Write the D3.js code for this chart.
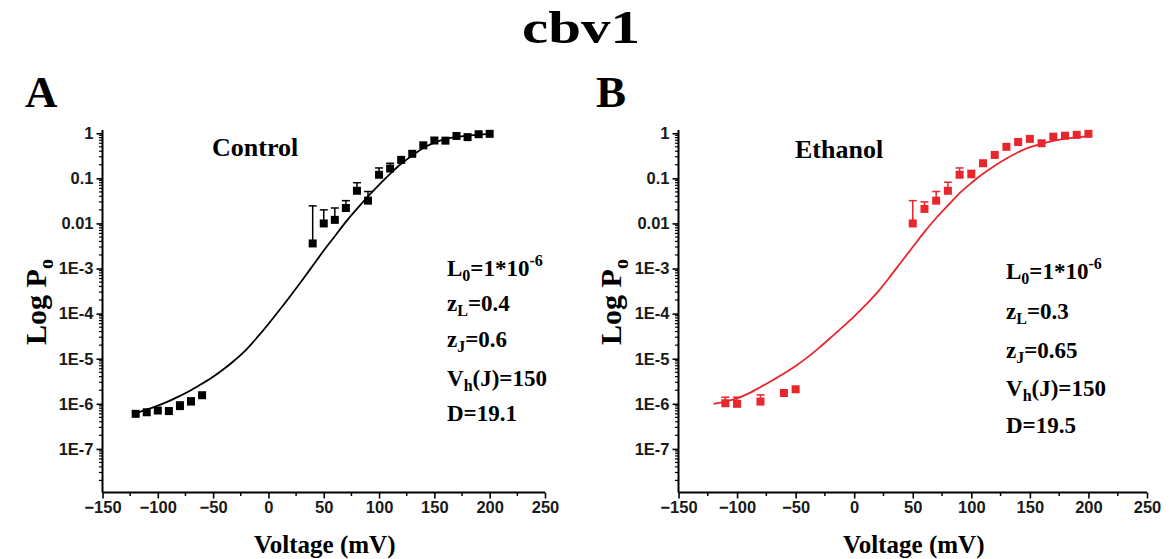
<!DOCTYPE html>
<html>
<head>
<meta charset="utf-8">
<script src="https://cdn.jsdelivr.net/npm/d3@7"></script>
<style>
  html, body { margin: 0; padding: 0; background: #fff; }
  svg { display: block; }
</style>
</head>
<body>
<svg id="chart" width="1169" height="559"></svg>
<script>
// ---------- DATA ----------
const xTicks = [-150, -100, -50, 0, 50, 100, 150, 200, 250];
const yTickValues = [1, 0.1, 0.01, 1e-3, 1e-4, 1e-5, 1e-6, 1e-7];
const yTickLabels = ["1", "0.1", "0.01", "1E-3", "1E-4", "1E-5", "1E-6", "1E-7"];

// Panel A: Control
const voltageA = [-120, -110, -100, -90, -80, -70, -60, 40, 50, 60, 70, 80, 90, 100, 110, 120, 130, 140, 150, 160, 170, 180, 190, 200];
const poA      = [6.0e-7, 6.5e-7, 7.1e-7, 6.9e-7, 8.9e-7, 1.12e-6, 1.55e-6, 0.0036, 0.010, 0.012, 0.022, 0.053, 0.032, 0.12, 0.165, 0.257, 0.35, 0.54, 0.69, 0.685, 0.87, 0.82, 0.95, 0.97];
const errTopA  = [null, null, null, 8.0e-7, 1.1e-6, 1.35e-6, null, 0.0245, 0.020, 0.022, 0.032, 0.080, 0.051, 0.17, 0.216, null, null, null, null, null, null, null, null, null];

const fitVoltageA = [-120, -110, -100, -90, -80, -70, -60, -50, -40, -30, -20, -10, 0, 10, 20, 30, 40, 50, 60, 70, 80, 90, 100, 110, 120, 130, 140, 150, 160, 170, 180, 190, 200];
const fitPoA      = [6.2e-7, 7.4e-7, 9.1e-7, 1.15e-6, 1.5e-6, 2.0e-6, 2.8e-6, 4.0e-6, 6.0e-6, 9.5e-6, 1.6e-5, 3.0e-5, 5.9e-5, 1.2e-4, 2.5e-4, 5.3e-4, 1.15e-3, 2.5e-3, 5.2e-3, 0.0108, 0.021, 0.040, 0.072, 0.126, 0.21, 0.32, 0.47, 0.62, 0.74, 0.83, 0.89, 0.93, 0.965];

// Panel B: Ethanol
const voltageB = [-110, -100, -80, -60, -50, 50, 60, 70, 80, 90, 100, 110, 120, 130, 140, 150, 160, 170, 180, 190, 200];
const poB      = [1.03e-6, 1.0e-6, 1.12e-6, 1.74e-6, 2.1e-6, 0.010, 0.021, 0.032, 0.053, 0.12, 0.123, 0.216, 0.33, 0.50, 0.64, 0.75, 0.60, 0.84, 0.88, 0.92, 0.97];
const errTopB  = [1.4e-6, 1.4e-6, 1.58e-6, null, null, 0.032, 0.030, 0.051, 0.082, 0.17, 0.15, null, null, null, null, null, null, null, null, null, null];

const fitVoltageB = [-120, -110, -100, -90, -80, -70, -60, -50, -40, -30, -20, -10, 0, 10, 20, 30, 40, 50, 60, 70, 80, 90, 100, 110, 120, 130, 140, 150, 160, 170, 180, 190, 200];
const fitPoB      = [1.0e-6, 1.12e-6, 1.32e-6, 1.7e-6, 2.35e-6, 3.3e-6, 4.7e-6, 6.9e-6, 1.07e-5, 1.74e-5, 2.95e-5, 5.0e-5, 8.7e-5, 1.58e-4, 3.0e-4, 6.3e-4, 1.38e-3, 3.0e-3, 6.5e-3, 0.0132, 0.025, 0.047, 0.079, 0.126, 0.19, 0.275, 0.38, 0.49, 0.59, 0.68, 0.76, 0.81, 0.85];

const paramsA = { L0: "1*10", L0exp: "-6", zL: "0.4", zJ: "0.6", Vh: "150", D: "19.1" };
const paramsB = { L0: "1*10", L0exp: "-6", zL: "0.3", zJ: "0.65", Vh: "150", D: "19.5" };

// ---------- DRAW ----------
const svg = d3.select("#chart");
const serif = "'Liberation Serif', 'Times New Roman', serif";
const sans = "'Liberation Sans', Arial, sans-serif";

svg.append("text").attr("x", 522).attr("y", 43)
  .attr("font-family", serif).attr("font-weight", "bold").attr("font-size", 46)
  .attr("textLength", 118).attr("lengthAdjust", "spacingAndGlyphs")
  .text("cbv1");

function drawPanel(cfg) {
  const x = d3.scaleLinear().domain([-150, 250]).range([cfg.left, cfg.right]);
  const y = d3.scaleLog().domain([1.08e-8, 1.18]).range([492.5, 130]);
  const g = svg.append("g");

  // panel letter
  g.append("text").attr("x", cfg.letterX).attr("y", 107)
    .attr("font-family", serif).attr("font-weight", "bold").attr("font-size", 45).text(cfg.letter);

  // x axis
  const xAxis = d3.axisBottom(x).tickValues(xTicks).tickSize(6).tickPadding(3).tickFormat(d3.format("d"));
  const gx = g.append("g").attr("transform", `translate(0,492.5)`).call(xAxis);
  const xMinor = d3.range(-125, 250, 50);
  gx.selectAll(".minor").data(xMinor).enter().append("line").attr("class", "minor")
    .attr("x1", d => x(d)).attr("x2", d => x(d)).attr("y1", 0).attr("y2", 3.5)
    .attr("stroke", "#000").attr("stroke-width", 1.5);

  // y axis
  const yAxis = d3.axisLeft(y).tickValues(yTickValues).tickSize(6).tickPadding(3)
    .tickFormat((d, i) => yTickLabels[i]);
  const gy = g.append("g").attr("transform", `translate(${cfg.left},0)`).call(yAxis);
  const yMinor = [];
  for (let e = -8; e <= -1; e++) for (let m = 2; m <= 9; m++) yMinor.push(m * Math.pow(10, e));
  gy.selectAll(".minor").data(yMinor.filter(v => v > 1.08e-8 && v < 1.18)).enter().append("line").attr("class", "minor")
    .attr("x1", 0).attr("x2", -3.5).attr("y1", d => y(d)).attr("y2", d => y(d))
    .attr("stroke", "#000").attr("stroke-width", 1.2);

  [gx, gy].forEach(a => {
    a.select(".domain").attr("stroke", "#000").attr("stroke-width", 2);
    a.selectAll(".tick line").attr("stroke", "#000").attr("stroke-width", 1.6);
    a.selectAll(".tick text").attr("font-family", sans).attr("font-size", 16.5)
      .attr("font-weight", "bold").style("fill", "#1a1a1a");
  });
  gx.select(".domain").attr("d", `M${cfg.left},0H${cfg.right}`);
  gy.select(".domain").attr("d", `M0,492.5V130`);

  // fit curve
  const line = d3.line().x(d => x(d[0])).y(d => y(d[1])).curve(d3.curveMonotoneX);
  g.append("path").datum(cfg.fitV.map((v, i) => [v, cfg.fitP[i]]))
    .attr("d", line).attr("fill", "none").attr("stroke", cfg.color).attr("stroke-width", 1.8);

  // error bars (upper only)
  const pts = cfg.v.map((v, i) => ({ v, p: cfg.p[i], e: cfg.err[i] }));
  const eb = g.append("g");
  pts.filter(d => d.e != null).forEach(d => {
    eb.append("line").attr("x1", x(d.v)).attr("x2", x(d.v)).attr("y1", y(d.p)).attr("y2", y(d.e))
      .attr("stroke", cfg.color).attr("stroke-width", 1.5);
    eb.append("line").attr("x1", x(d.v) - 4).attr("x2", x(d.v) + 4).attr("y1", y(d.e)).attr("y2", y(d.e))
      .attr("stroke", cfg.color).attr("stroke-width", 1.5);
  });
  // markers
  g.append("g").selectAll("rect").data(pts).enter().append("rect")
    .attr("x", d => x(d.v) - 4).attr("y", d => y(d.p) - 4).attr("width", 8).attr("height", 8)
    .attr("fill", cfg.color);

  // condition label
  g.append("text").attr("x", cfg.condX).attr("y", cfg.condY)
    .attr("font-family", serif).attr("font-weight", "bold").attr("font-size", 26).text(cfg.cond);

  // axis titles
  g.append("text").attr("x", (cfg.left + cfg.right) / 2 + 1).attr("y", 553).attr("text-anchor", "middle")
    .attr("font-family", serif).attr("font-weight", "bold").attr("font-size", 25).text("Voltage (mV)");
  const yl = g.append("text").attr("transform", `translate(${cfg.ylabX},302) rotate(-90)`).attr("text-anchor", "middle")
    .attr("font-family", serif).attr("font-weight", "bold").attr("font-size", 30);
  yl.append("tspan").text("Log P");
  yl.append("tspan").attr("dy", 7).attr("font-size", 20).text("o");

  // parameter annotations
  const P = cfg.params;
  const ann = g.append("g").attr("font-family", serif).attr("font-weight", "bold").attr("font-size", 23);
  const ys = cfg.annY;
  const sub = 16;
  let t = ann.append("text").attr("x", cfg.annX).attr("y", ys[0]);
  t.append("tspan").text("L");
  t.append("tspan").attr("dy", 5).attr("font-size", sub).text("0");
  t.append("tspan").attr("dy", -5).text("=" + P.L0);
  t.append("tspan").attr("dy", -10).attr("font-size", sub).text(P.L0exp);

  t = ann.append("text").attr("x", cfg.annX).attr("y", ys[1]);
  t.append("tspan").text("z");
  t.append("tspan").attr("dy", 5).attr("font-size", sub).text("L");
  t.append("tspan").attr("dy", -5).text("=" + P.zL);

  t = ann.append("text").attr("x", cfg.annX).attr("y", ys[2]);
  t.append("tspan").text("z");
  t.append("tspan").attr("dy", 5).attr("font-size", sub).text("J");
  t.append("tspan").attr("dy", -5).text("=" + P.zJ);

  t = ann.append("text").attr("x", cfg.annX).attr("y", ys[3]);
  t.append("tspan").text("V");
  t.append("tspan").attr("dy", 5).attr("font-size", sub).text("h");
  t.append("tspan").attr("dy", -5).text("(J)=" + P.Vh);

  ann.append("text").attr("x", cfg.annX).attr("y", ys[4]).text("D=" + P.D);
}

drawPanel({
  letter: "A", letterX: 25, left: 102.5, right: 545, color: "#000",
  v: voltageA, p: poA, err: errTopA, fitV: fitVoltageA, fitP: fitPoA,
  cond: "Control", condX: 212, condY: 156, ylabX: 46,
  params: paramsA, annX: 447, annY: [276, 311, 347, 386, 421]
});
drawPanel({
  letter: "B", letterX: 596, left: 678.5, right: 1147, color: "#e8262b",
  v: voltageB, p: poB, err: errTopB, fitV: fitVoltageB, fitP: fitPoB,
  cond: "Ethanol", condX: 795, condY: 158, ylabX: 621,
  params: paramsB, annX: 1006, annY: [279, 319, 358, 396, 433]
});
</script>
</body>
</html>
